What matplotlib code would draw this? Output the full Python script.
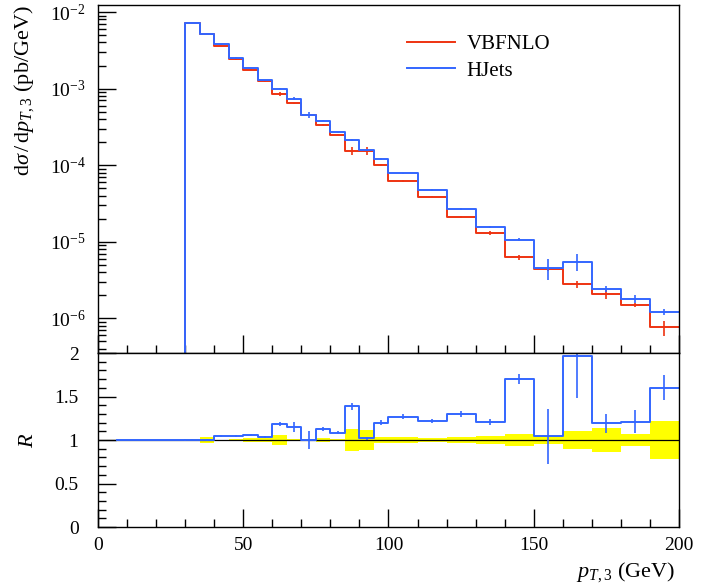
import numpy as np
import matplotlib
matplotlib.use("Agg")
import matplotlib.pyplot as plt
from matplotlib.lines import Line2D
from matplotlib.ticker import MultipleLocator, LogLocator, NullFormatter, FuncFormatter

plt.rcParams['font.family'] = ['Liberation Serif', 'DejaVu Serif']
plt.rcParams['mathtext.fontset'] = 'custom'
plt.rcParams['mathtext.rm'] = 'Liberation Serif'
plt.rcParams['mathtext.it'] = 'Liberation Serif:italic'

# bin edges (GeV)
edges = [30, 35, 40, 45, 50, 55, 60, 65, 70, 75, 80, 85, 90, 95, 100,
         110, 120, 130, 140, 150, 160, 170, 180, 190, 200]

# dsigma/dpT,3 (pb/GeV)
vbfnlo = [7.1e-3, 5.15e-3, 3.6e-3, 2.41e-3, 1.76e-3, 1.25e-3, 8.45e-4, 6.4e-4,
          4.55e-4, 3.36e-4, 2.5e-4, 1.55e-4, 1.53e-4, 1.01e-4, 6.15e-5, 3.87e-5,
          2.08e-5, 1.3e-5, 6.26e-6, 4.4e-6, 2.78e-6, 2.05e-6, 1.49e-6, 7.6e-7]
hjets = [7.14e-3, 5.15e-3, 3.78e-3, 2.53e-3, 1.857e-3, 1.29e-3, 9.97e-4, 7.36e-4,
         4.55e-4, 3.8e-4, 2.71e-4, 2.15e-4, 1.56e-4, 1.21e-4, 7.8e-5, 4.72e-5,
         2.7e-5, 1.57e-5, 1.065e-5, 4.58e-6, 5.48e-6, 2.44e-6, 1.8e-6, 1.215e-6]

# relative uncertainties
vbfnlo_rel = [0.01, 0.03, 0.005, 0.01, 0.02, 0.02, 0.055, 0.015, 0.01, 0.02, 0.015,
              0.125, 0.12, 0.04, 0.03, 0.02, 0.03, 0.05, 0.07, 0.05, 0.10, 0.14,
              0.07, 0.22]
hjets_rel = [0.005, 0.01, 0.01, 0.01, 0.01, 0.01, 0.02, 0.05, 0.1, 0.02, 0.015,
             0.03, 0.02, 0.025, 0.02, 0.02, 0.03, 0.03, 0.035, 0.30, 0.25, 0.09,
             0.11, 0.09]

# range with no entries where the ratio is shown as 1
empty_range = [6.5, 30]

red = '#EE3311'
blue = '#3366FF'

edges = np.array(edges, dtype=float)
centers = 0.5 * (edges[1:] + edges[:-1])
vb = np.array(vbfnlo)
hj = np.array(hjets)
vb_rel = np.array(vbfnlo_rel)
hj_rel = np.array(hjets_rel)

fig = plt.figure(figsize=(7.01, 5.84), dpi=100)
ax = fig.add_axes([0.1398, 0.3955, 0.8288, 0.5959])
axr = fig.add_axes([0.1398, 0.0976, 0.8288, 0.2979], sharex=ax)

tiny = 1e-12
xs = np.r_[edges[0], edges]
for vals, rel, col in [(vb, vb_rel, red), (hj, hj_rel, blue)]:
    ys = np.r_[tiny, vals, vals[-1]]
    ax.plot(xs, ys, drawstyle='steps-post', color=col, lw=1.4)
    ax.errorbar(centers, vals, yerr=vals * rel, fmt='none', ecolor=col, elinewidth=1.2)

ax.set_yscale('log')
ax.set_xlim(0, 200)
ax.set_ylim(3.52e-7, 1.234e-2)
ax.yaxis.set_major_locator(LogLocator(base=10, numticks=10))
ax.yaxis.set_minor_locator(LogLocator(base=10, subs=np.arange(2, 10), numticks=20))
ax.yaxis.set_minor_formatter(NullFormatter())
ax.set_ylabel(r'$\mathrm{d}\sigma\,/\,\mathrm{d}p_{T,3}$ (pb/GeV)', fontsize=16, loc='top')
ax.yaxis.set_label_coords(-0.107, 1.0)
ax.tick_params(axis='x', labelbottom=False)

handles = [Line2D([], [], color=red, lw=1.4), Line2D([], [], color=blue, lw=1.4)]
ax.legend(handles, ['VBFNLO', 'HJets'], loc='upper left', bbox_to_anchor=(0.50, 0.97),
          frameon=False, fontsize=15, handlelength=2.3, handletextpad=0.55, labelspacing=0.35)

# ratio panel
ratio = hj / vb
band_lo = 1 - vb_rel
band_hi = 1 + vb_rel
axr.fill_between(edges, np.r_[band_lo, band_lo[-1]], np.r_[band_hi, band_hi[-1]],
                 step='post', color='#FFFF00', lw=0)
axr.axhline(1, color='black', lw=0.9)
axr.plot(empty_range, [1, 1], color=blue, lw=1.4)
axr.plot(edges, np.r_[ratio, ratio[-1]], drawstyle='steps-post', color=blue, lw=1.4)
axr.errorbar(centers, ratio, yerr=ratio * hj_rel, fmt='none', ecolor=blue, elinewidth=1.2)
axr.set_ylim(0, 2)
axr.yaxis.set_major_locator(MultipleLocator(0.5))
axr.yaxis.set_minor_locator(MultipleLocator(0.1))
axr.yaxis.set_major_formatter(FuncFormatter(lambda v, p: '%g' % v))
axr.set_ylabel(r'$R$', fontsize=16)
axr.yaxis.set_label_coords(-0.103, 0.5)
axr.set_xlabel(r'$p_{T,3}$ (GeV)', fontsize=16, loc='right')
axr.xaxis.set_label_coords(0.993, -0.19)

for a in (ax, axr):
    a.xaxis.set_major_locator(MultipleLocator(50))
    a.xaxis.set_minor_locator(MultipleLocator(10))
    a.tick_params(which='both', direction='in', top=False, right=False, labelsize=14, width=1)
    a.tick_params(which='major', length=13)
    a.tick_params(which='minor', length=5.5)
    a.tick_params(axis='x', pad=7)
    for s in a.spines.values():
        s.set_linewidth(1.0)
ax.tick_params(axis='y', pad=9)
axr.tick_params(axis='y', pad=14)

fig.savefig('out.png', dpi=100)
